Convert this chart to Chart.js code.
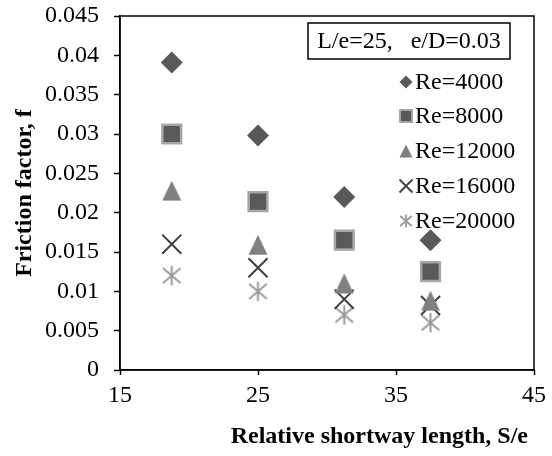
<!DOCTYPE html>
<html><head><meta charset="utf-8">
<script src="https://cdn.jsdelivr.net/npm/chart.js@4.4.1/dist/chart.umd.min.js"></script>
<style>html,body{margin:0;padding:0;background:#fff}#wrap{width:552px;height:456px;position:relative}</style>
</head><body><div id="wrap"><canvas id="c"></canvas></div>
<script>
const shortwayLength = [18.75, 25, 31.25, 37.5];
const re4000  = [0.0391, 0.0298, 0.0220, 0.0165];
const re8000  = [0.0300, 0.0214, 0.0165, 0.0125];
const re12000 = [0.0228, 0.0159, 0.0110, 0.0088];
const re16000 = [0.0160, 0.0130, 0.0090, 0.0082];
const re20000 = [0.0120, 0.0100, 0.0070, 0.0060];
const seriesLabels = ['Re=4000', 'Re=8000', 'Re=12000', 'Re=16000', 'Re=20000'];
const xTickValues = [15, 25, 35, 45];
const yTickValues = [0, 0.005, 0.01, 0.015, 0.02, 0.025, 0.03, 0.035, 0.04, 0.045];
const noteText = 'L/e=25,   e/D=0.03';
const xTitle = 'Relative shortway length, S/e\u00a0';
const yTitle = 'Friction factor, f';

const SERIF = "'Liberation Serif','Times New Roman',serif";

function makeTriangle(w, h, color) {
  const c = document.createElement('canvas'); c.width = w; c.height = h;
  const g = c.getContext('2d');
  g.fillStyle = color; g.beginPath();
  g.moveTo(w / 2, 0.5); g.lineTo(w - 0.5, h - 0.5); g.lineTo(0.5, h - 0.5); g.closePath(); g.fill();
  return c;
}
function makeAsterisk(s, color, lw) {
  const c = document.createElement('canvas'); c.width = s; c.height = s;
  const g = c.getContext('2d');
  g.strokeStyle = color; g.lineWidth = lw; g.lineCap = 'butt';
  const m = s / 2, a = s * 0.42, b = s * 0.36;
  g.beginPath();
  g.moveTo(m, m - s * 0.47); g.lineTo(m, m + s * 0.47);
  g.moveTo(m - a, m - b); g.lineTo(m + a, m + b);
  g.moveTo(m + a, m - b); g.lineTo(m - a, m + b);
  g.stroke();
  return c;
}
const triColor = '#808080', starColor = '#9a9a9a';
const triImg = makeTriangle(20, 21, triColor);
const starImg = makeAsterisk(21, starColor, 2);

const toPts = arr => shortwayLength.map((x, i) => ({x, y: arr[i]}));

const datasets = [
  {label: seriesLabels[0], data: toPts(re4000), pointStyle: 'rectRot', pointRadius: 11, backgroundColor: '#595959', borderColor: '#595959', borderWidth: 0},
  {label: seriesLabels[1], data: toPts(re8000), pointStyle: 'rect', pointRadius: 13.2, backgroundColor: '#595959', borderColor: '#a6a6a6', borderWidth: 2.5},
  {label: seriesLabels[2], data: toPts(re12000), pointStyle: triImg, pointRadius: 10, backgroundColor: triColor, borderColor: triColor, borderWidth: 0},
  {label: seriesLabels[3], data: toPts(re16000), pointStyle: 'crossRot', pointRadius: 13.5, backgroundColor: '#404040', borderColor: '#404040', borderWidth: 2},
  {label: seriesLabels[4], data: toPts(re20000), pointStyle: starImg, pointRadius: 10, backgroundColor: starColor, borderColor: starColor, borderWidth: 0}
];

const legendTriImg = makeTriangle(14, 14, triColor);
const legendStarImg = makeAsterisk(14, starColor, 1.8);

const overlayPlugin = {
  id: 'overlay',
  afterDraw(chart) {
    const ctx = chart.ctx, a = chart.chartArea;
    ctx.save();
    ctx.strokeStyle = '#000'; ctx.lineWidth = 1.5;
    ctx.strokeRect(a.left, a.top, a.right - a.left, a.bottom - a.top);
    // note box
    ctx.fillStyle = '#fff';
    ctx.fillRect(308, 23, 202, 36);
    ctx.font = '24px ' + SERIF;
    ctx.fillStyle = '#000';
    ctx.textBaseline = 'middle'; ctx.textAlign = 'center';
    ctx.lineWidth = 1.5;
    ctx.strokeRect(308, 23, 202, 36);
    ctx.fillText(noteText, 409, 42);
    // legend
    ctx.font = '24px ' + SERIF;
    const ys = [82, 116, 151, 186, 221];
    const mx = 406, tx = 415;
    ctx.textAlign = 'left';
    chart.data.datasets.forEach((ds, i) => {
      const y = ys[i];
      ctx.save();
      ctx.fillStyle = ds.backgroundColor; ctx.strokeStyle = ds.borderColor;
      if (ds.pointStyle === 'rectRot') {
        ctx.beginPath(); ctx.moveTo(mx, y - 6.5); ctx.lineTo(mx + 6.5, y); ctx.lineTo(mx, y + 6.5); ctx.lineTo(mx - 6.5, y); ctx.closePath(); ctx.fill();
      } else if (ds.pointStyle === 'rect') {
        ctx.lineWidth = 2; ctx.fillRect(mx - 6, y - 6, 12, 12); ctx.strokeRect(mx - 6, y - 6, 12, 12);
      } else if (ds.pointStyle === 'crossRot') {
        ctx.lineWidth = 1.8; ctx.beginPath(); ctx.moveTo(mx - 6.5, y - 6.5); ctx.lineTo(mx + 6.5, y + 6.5); ctx.moveTo(mx + 6.5, y - 6.5); ctx.lineTo(mx - 6.5, y + 6.5); ctx.stroke();
      } else if (i === 2) {
        ctx.drawImage(legendTriImg, mx - 7, y - 7);
      } else {
        ctx.drawImage(legendStarImg, mx - 7, y - 7);
      }
      ctx.restore();
      ctx.fillStyle = '#000';
      ctx.fillText(ds.label, tx, y + 1);
    });
    ctx.restore();
  }
};

new Chart(document.getElementById('c'), {
  type: 'scatter',
  data: {datasets},
  options: {
    responsive: true, maintainAspectRatio: false, animation: false,
    layout: {autoPadding: false, padding: {top: 16, right: 18, left: 0, bottom: 0}},
    plugins: {legend: {display: false}, tooltip: {enabled: false}},
    scales: {
      x: {
        type: 'linear', min: 15, max: 45,
        afterBuildTicks: s => { s.ticks = xTickValues.map(v => ({value: v})); },
        afterFit: s => { s.height = 86; s.paddingLeft = 0; s.paddingRight = 0; },
        ticks: {font: {family: SERIF, size: 24}, color: '#000', padding: 6, maxRotation: 0},
        grid: {drawOnChartArea: false, tickLength: 5, color: '#000', tickWidth: 1.5},
        border: {color: '#000', width: 1.5},
        title: {display: true, text: xTitle, align: 'end', color: '#000', font: {family: SERIF, size: 24, weight: 'bold'}, padding: {top: 0, bottom: 5}}
      },
      y: {
        min: 0, max: 0.045,
        afterBuildTicks: s => { s.ticks = yTickValues.map(v => ({value: v})); },
        afterFit: s => { s.width = 120; s.paddingTop = 0; s.paddingBottom = 0; },
        ticks: {font: {family: SERIF, size: 24}, color: '#000', padding: 15, callback: v => String(+Number(v).toFixed(3))},
        grid: {drawOnChartArea: false, tickLength: 6, color: '#000', tickWidth: 1.5},
        border: {color: '#000', width: 1.5},
        title: {display: true, text: yTitle, color: '#000', font: {family: SERIF, size: 24, weight: 'bold'}, padding: {top: 10, bottom: 0}}
      }
    }
  },
  plugins: [overlayPlugin]
});
</script></body></html>
